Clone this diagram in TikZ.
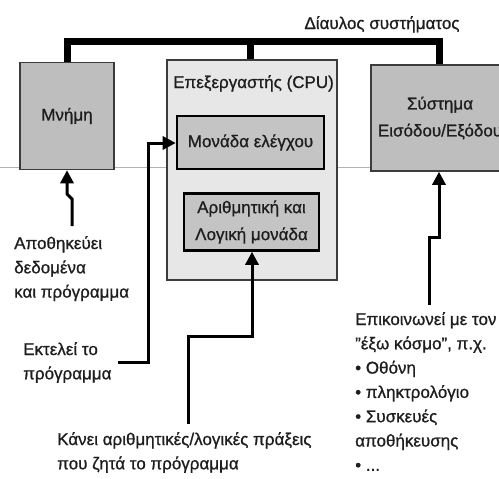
\documentclass[tikz,border=0pt]{standalone}
\usepackage{fontspec}
\setmainfont{Liberation Sans}[FakeBold=0.9]
\usetikzlibrary{arrows.meta}
\definecolor{boxgray}{RGB}{190,190,190}
\definecolor{cpugray}{RGB}{231,231,231}
\definecolor{unitgray}{RGB}{196,196,196}
\definecolor{edgegray}{RGB}{60,60,60}
\definecolor{ink}{RGB}{30,30,30}
\definecolor{guide}{RGB}{165,180,205}
\tikzset{
  txt/.style={font=\fontsize{17}{24.3}\selectfont, text=ink, inner sep=0pt, align=left},
  outerbox/.style={draw=edgegray, line width=1.5pt, fill=boxgray, inner sep=0pt, align=center,
    font=\fontsize{17}{27}\selectfont, text=ink},
  cpubox/.style={draw=edgegray, line width=1.3pt, fill=cpugray, inner sep=0pt},
  unitbox/.style={draw=black, line width=2.6pt, fill=unitgray, inner sep=0pt, align=center,
    font=\fontsize{17}{27}\selectfont, text=ink},
  bus/.style={line width=7pt, line join=miter, black},
  feed/.style={line width=3pt, line join=miter, black, -{Triangle[length=13pt,width=13pt]}}
}
\begin{document}
\begin{tikzpicture}[x=1pt,y=-1pt]
\useasboundingbox (0,0) rectangle (499,479);
\clip (0,0) rectangle (499,479);
\fill[white] (0,0) rectangle (499,479);

% thin horizontal guide line across the sheet
\draw[guide, line width=0.9pt] (0,167.5) -- (499,167.5);

% main blocks
\node[outerbox, minimum width=94pt, minimum height=107pt] (mem) at (67,116) {Μνήμη};
\node[cpubox, minimum width=170pt, minimum height=220pt] (cpu) at (252,170) {};
\node[txt, anchor=base west] (cputitle) at (173,88) {Επεξεργαστής (CPU)};
\node[unitbox, minimum width=147pt, minimum height=53pt] (ctrl) at (250.5,142.5) {Μονάδα ελέγχου};
\node[unitbox, minimum width=135pt, minimum height=57pt] (alu) at (251.5,222) {Αριθμητική και\\Λογική μονάδα};
\node[outerbox, minimum width=138pt, minimum height=106pt] (io) at (440,118) {Σύστημα\\Εισόδου/Εξόδου};

% system bus
\node[txt, anchor=base] (buslabel) at (382,29) {Δίαυλος συστήματος};
\coordinate (busL) at (67,41.5);
\coordinate (busR) at (439,41.5);
\coordinate (busC) at (250,41.5);
\draw[bus] (mem.north -| busL) -- (busL) -- (busR) -- (io.north -| busR);
\draw[bus] (busC) -- (cpu.north -| busC);

% annotations
\node[txt, anchor=north west] (memtxt) at (14,236) {Αποθηκεύει\\δεδομένα\\και πρόγραμμα};
\node[txt, anchor=north west] (exectxt) at (23,342) {Εκτελεί το\\πρόγραμμα};
\node[txt, anchor=north west] (alutxt) at (57,432) {Κάνει αριθμητικές/λογικές πράξεις\\που ζητά το πρόγραμμα};
\node[txt, anchor=north west] (iotxt) at (355,312) {Επικοινωνεί με τον\\"έξω κόσμο", π.χ.\\• Οθόνη\\• πληκτρολόγιο\\• Συσκευές\\αποθήκευσης\\• ...};

% pointers into the blocks
\coordinate (memA) at (72,226);
\draw[feed] (memA) -- (72,199) -- (67,194) -- (mem.south);
\coordinate (ioA) at (429,305);
\draw[feed] (ioA) -- (429,237) -- (439,237) -- (io.south -| 439,0);
\coordinate (execA) at (118,362);
\draw[feed] (execA) -- (148,362) -- (148,143) -- (ctrl.west |- 0,143);
\coordinate (aluA) at (188,424);
\draw[feed] (aluA) -- (188,336) -- (252,336) -- (alu.south -| 252,0);
\end{tikzpicture}
\end{document}
